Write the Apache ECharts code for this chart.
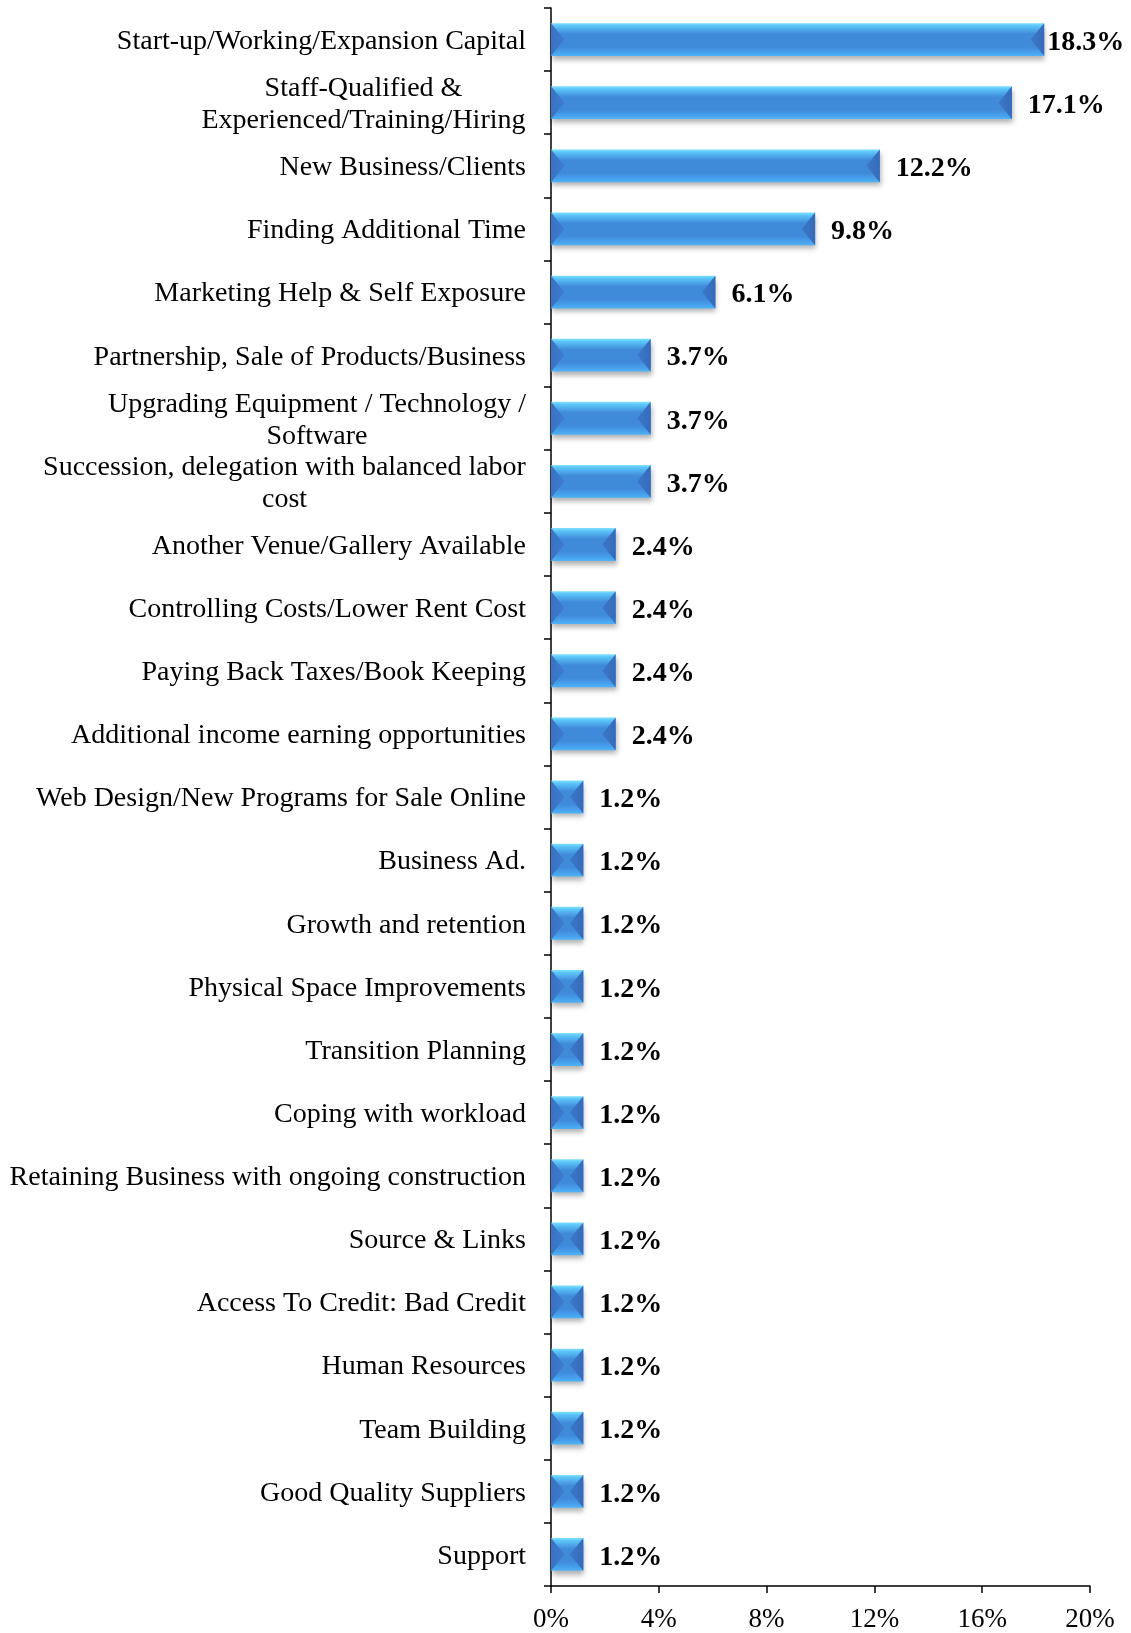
<!DOCTYPE html>
<html>
<head>
<meta charset="utf-8">
<script src="https://cdn.jsdelivr.net/npm/echarts@6/dist/echarts.min.js"></script>
<style>
  html, body { margin: 0; padding: 0; background: #fff; }
  #chart { width: 1131px; height: 1633px; }
</style>
</head>
<body>
<div id="chart"></div>
<script>
// Categories, top to bottom
const categories = [
  'Start-up/Working/Expansion Capital',
  'Staff-Qualified &\nExperienced/Training/Hiring',
  'New Business/Clients',
  'Finding Additional Time',
  'Marketing Help & Self Exposure',
  'Partnership, Sale of Products/Business',
  'Upgrading Equipment / Technology /\nSoftware',
  'Succession, delegation with balanced labor\ncost',
  'Another Venue/Gallery Available',
  'Controlling Costs/Lower Rent Cost',
  'Paying Back Taxes/Book Keeping',
  'Additional income earning opportunities',
  'Web Design/New Programs for Sale Online',
  'Business Ad.',
  'Growth and retention',
  'Physical Space Improvements',
  'Transition Planning',
  'Coping with workload',
  'Retaining Business with ongoing construction',
  'Source & Links',
  'Access To Credit: Bad Credit',
  'Human Resources',
  'Team Building',
  'Good Quality Suppliers',
  'Support'
];

// Share of responses (%)
const values = [
  18.3, 17.1, 12.2, 9.8, 6.1,
  3.7, 3.7, 3.7,
  2.4, 2.4, 2.4, 2.4,
  1.2, 1.2, 1.2, 1.2, 1.2, 1.2, 1.2, 1.2, 1.2, 1.2, 1.2, 1.2, 1.2
];

// Value axis ticks (%)
const axisMin = 0;
const axisMax = 20;
const axisStep = 4;

const FONT = '"Liberation Serif", "Times New Roman", serif';
const catFontSize = 28;
const valFontSize = 28;

const measureCtx = document.createElement('canvas').getContext('2d');
function textWidth(str, font) {
  measureCtx.font = font;
  return measureCtx.measureText(str).width;
}

// Multi-line labels: lines centred on each other, block right-aligned
const rich = {};
categories.forEach((c, i) => {
  if (c.indexOf('\n') >= 0) {
    const w = Math.max(...c.split('\n').map(l => textWidth(l, catFontSize + 'px ' + FONT)));
    rich['m' + i] = {
      width: Math.ceil(w),
      align: 'center',
      fontSize: catFontSize,
      fontFamily: FONT,
      color: '#000',
      lineHeight: 32
    };
  }
});

function renderBar(params, api) {
  const v = api.value(0);
  const idx = api.value(1);
  const p0 = api.coord([0, idx]);
  const p1 = api.coord([v, idx]);
  const band = api.size([0, 1])[1];
  const h = band * 0.52;
  const x0 = p0[0], x1 = p1[0];
  const ym = p0[1], y0 = ym - h / 2, y1 = ym + h / 2;
  const w = x1 - x0;
  const d = Math.min(w / 2, h * 0.41);

  const labelText = v.toFixed(1) + '%';
  const labelFont = 'bold ' + valFontSize + 'px ' + FONT;
  const lw = textWidth(labelText, labelFont);
  let lx = x1 + 16;
  if (lx + lw > api.getWidth()) lx = x1 + 3;

  return {
    type: 'group',
    children: [
      {
        type: 'rect',
        shape: { x: x0, y: y0, width: w, height: h },
        style: {
          fill: {
            type: 'linear', x: 0, y: 0, x2: 0, y2: 1,
            colorStops: [
              { offset: 0, color: '#80e2ff' },
              { offset: 0.08, color: '#5cc6f9' },
              { offset: 0.33, color: '#408ada' },
              { offset: 0.72, color: '#408ada' },
              { offset: 0.9, color: '#47a2ee' },
              { offset: 1, color: '#50b3f6' }
            ]
          },
          shadowBlur: 5,
          shadowOffsetX: 1,
          shadowOffsetY: 4,
          shadowColor: 'rgba(0,0,0,0.3)'
        }
      },
      {
        type: 'polygon',
        shape: { points: [[x0, y0], [x0 + d, ym], [x0, y1]] },
        style: {
          fill: {
            type: 'linear', x: 0, y: 0, x2: 1, y2: 0,
            colorStops: [
              { offset: 0, color: '#3a72c4' },
              { offset: 1, color: '#3d7cce' }
            ]
          }
        }
      },
      {
        type: 'polygon',
        shape: { points: [[x1, y0], [x1 - d, ym], [x1, y1]] },
        style: {
          fill: {
            type: 'linear', x: 0, y: 0, x2: 1, y2: 0,
            colorStops: [
              { offset: 0, color: '#3c78c9' },
              { offset: 1, color: '#356bb9' }
            ]
          }
        }
      },
      {
        type: 'text',
        style: {
          text: labelText,
          x: lx,
          y: ym + 3,
          align: 'left',
          verticalAlign: 'middle',
          font: labelFont,
          fill: '#000'
        }
      }
    ]
  };
}

const chart = echarts.init(document.getElementById('chart'));
chart.setOption({
  animation: false,
  backgroundColor: '#fff',
  grid: { left: 551, right: 41, top: 8, bottom: 45, containLabel: false },
  xAxis: {
    type: 'value',
    min: axisMin,
    max: axisMax,
    interval: axisStep,
    axisLine: { show: true, lineStyle: { color: '#000', width: 1.5 } },
    axisTick: { show: true, length: 7, lineStyle: { color: '#000', width: 1.5 } },
    splitLine: { show: false },
    axisLabel: {
      formatter: '{value}%',
      fontFamily: FONT,
      fontSize: 27,
      color: '#000',
      margin: 20
    }
  },
  yAxis: {
    type: 'category',
    data: categories,
    inverse: true,
    axisLine: { show: true, lineStyle: { color: '#000', width: 1.5 } },
    axisTick: { show: true, length: 7, lineStyle: { color: '#000', width: 1.5 } },
    splitLine: { show: false },
    axisLabel: {
      interval: 0,
      margin: 25,
      padding: [4, 0, 0, 0],
      fontFamily: FONT,
      fontSize: catFontSize,
      lineHeight: 32,
      color: '#000',
      formatter: function (val, i) {
        if (val.indexOf('\n') >= 0) {
          return val.split('\n').map(l => '{m' + i + '|' + l + '}').join('\n');
        }
        return val;
      },
      rich: rich
    }
  },
  series: [{
    type: 'custom',
    renderItem: renderBar,
    encode: { x: 0, y: 1 },
    data: values.map((v, i) => [v, i]),
    clip: false
  }]
});
</script>
</body>
</html>
